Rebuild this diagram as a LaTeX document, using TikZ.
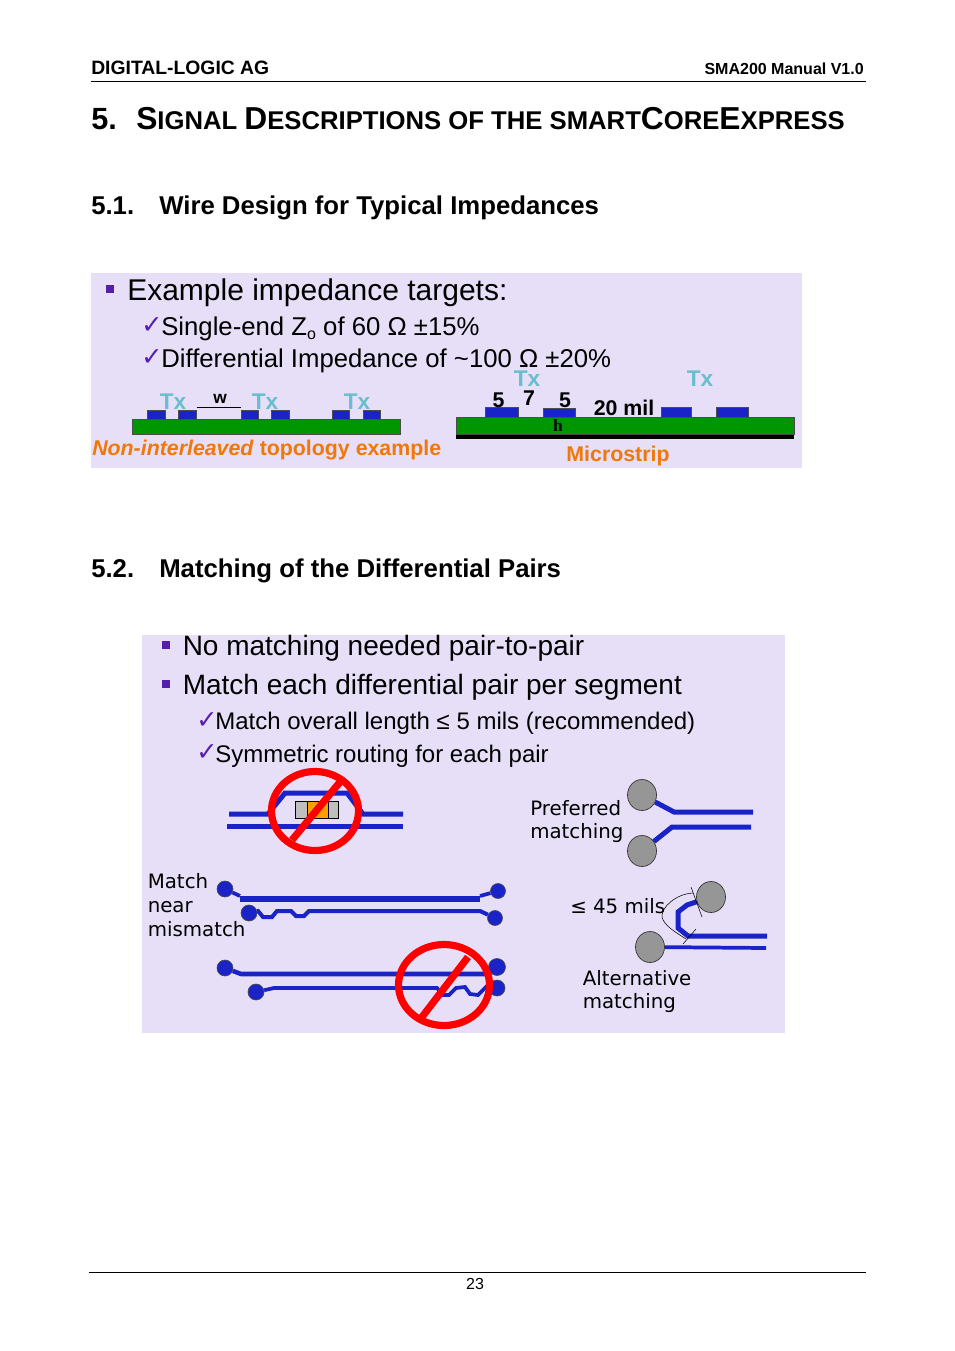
\documentclass[tikz,border=0pt]{standalone}
\usepackage{xcolor}
\usepackage{fontspec}
\usepackage{tikz}
\usetikzlibrary{shapes.geometric}
\setmainfont{Liberation Sans}
\newfontfamily\dejavu{DejaVu Sans}
\newfontfamily\timesbold{Liberation Serif}
\definecolor{slidebg}{RGB}{231,223,248}
\definecolor{tracecol}{RGB}{25,35,200}
\definecolor{bulletcol}{RGB}{85,30,175}
\definecolor{txcol}{RGB}{105,190,205}
\definecolor{labelcol}{RGB}{240,120,10}
\definecolor{boardcol}{RGB}{0,150,0}
\definecolor{padgray}{RGB}{150,150,150}
\definecolor{partcol}{RGB}{255,160,0}
\tikzset{
  txt/.style={anchor=base west,inner sep=0pt},
  ctxt/.style={anchor=base,inner sep=0pt},
  big/.style={txt,font=\fontsize{21}{26}\selectfont},
  sub/.style={txt,font=\fontsize{19.3}{24}\selectfont},
  note/.style={txt,font=\dejavu\fontsize{14.85}{18}\selectfont},
  heading/.style={txt,font=\bfseries\fontsize{19.3}{24}\selectfont},
  tx/.style={ctxt,text=txcol,font=\bfseries\fontsize{17}{20}\selectfont},
  dim/.style={ctxt,font=\bfseries\fontsize{16}{20}\selectfont},
  bulletbox/.style={fill=bulletcol,minimum size=6.5pt,inner sep=0pt},
  tick/.style={anchor=base west,inner sep=0pt,text=bulletcol,font=\dejavu\fontsize{19}{20}\selectfont},
  strip/.style={draw=black!70,line width=0.6pt,fill=tracecol},
  board/.style={draw=black!70,line width=0.6pt,fill=boardcol},
  trace/.style={draw=tracecol,line width=3.75pt},
  thintrace/.style={draw=tracecol,line width=2.8pt},
  bluepad/.style={circle,draw=black!70,line width=0.5pt,fill=tracecol,minimum size=12pt,inner sep=0pt},
  graypad/.style={ellipse,draw=black!80,line width=0.5pt,fill=padgray,minimum width=21.75pt,minimum height=23.25pt,inner sep=0pt},
  nosign/.style={draw=red,line width=5.4pt},
}
\newcommand{\scword}[2]{{\fontsize{23.8}{26}\selectfont #1}{\fontsize{19.25}{26}\selectfont #2}}
\begin{document}
\begin{tikzpicture}[x=0.75pt,y=0.75pt,yscale=-1,xscale=1]
    \useasboundingbox (0,0) rectangle (954,1351);
    \node [txt,font=\bfseries\fontsize{14.5}{18}\selectfont] (company) at (91,75) {DIGITAL-LOGIC AG};
    \node [anchor=base east,inner sep=0pt,font=\bfseries\fontsize{12}{14}\selectfont] (manual) at (864,75) {SMA200 Manual V1.0};
    \draw [line width=0.6pt] (91,81.5) -- (866,81.5) ;
    \node [txt,font=\bfseries\fontsize{23}{26}\selectfont] (chapnum) at (91,130) {5.};
    \node [txt,font=\bfseries\fontsize{19.25}{26}\selectfont] (chaptitle) at (136,130) {\scword{S}{IGNAL} \scword{D}{ESCRIPTIONS} \scword{}{OF THE SMART}\scword{C}{ORE}\scword{E}{XPRESS}};
    \node [heading] (secone) at (91,215) {5.1.};
    \node [heading] (seconetitle) at (159,215) {Wire Design for Typical Impedances};
    \fill [slidebg] (91,273) rectangle (802,468) ;
    \node [bulletbox] (bulletA) at (110,289) {};
    \node [txt,font=\fontsize{22.5}{26}\selectfont] (targets) at (127,301) {Example impedance targets:};
    \node [tick] (tickA) at (141,334) {✓};
    \node [sub] (singleend) at (161,336) {Single-end Z\raisebox{-0.15em}{\fontsize{12}{14}\selectfont o} of 60 Ω ±15\%};
    \node [tick] (tickB) at (141,366) {✓};
    \node [sub] (differential) at (161,368) {Differential Impedance of \textasciitilde100 Ω ±20\%};
    \draw [board] (132,419) rectangle (400,434) ;
    \draw [strip] (147,410) rectangle (165,419) ;
    \draw [strip] (178,410) rectangle (196,419) ;
    \draw [strip] (241,410) rectangle (258,419) ;
    \draw [strip] (271,410) rectangle (289,419) ;
    \draw [strip] (332,410) rectangle (349,419) ;
    \draw [strip] (363,410) rectangle (380,419) ;
    \node [tx] (txA) at (173,409) {Tx};
    \node [tx] (txB) at (265,409) {Tx};
    \node [tx] (txC) at (357,409) {Tx};
    \node [ctxt,font=\bfseries\fontsize{13}{16}\selectfont] (wlabel) at (220,403) {w};
    \draw [line width=0.6pt] (197,407) -- (241,407) ;
    \node [txt,text=labelcol,font=\bfseries\fontsize{16}{20}\selectfont] (topology) at (92,455) {\textit{Non-interleaved} topology example};
    \fill [black] (456,434) rectangle (794,439) ;
    \draw [board] (456,417) rectangle (794,434) ;
    \draw [strip] (485,407) rectangle (518,417) ;
    \draw [strip] (543,408) rectangle (575,417) ;
    \draw [strip] (661,407) rectangle (691,417) ;
    \draw [strip] (716,407) rectangle (748,417) ;
    \node [tx] (txD) at (527,387) {Tx};
    \node [tx] (txE) at (700,387) {Tx};
    \node [dim] (fiveA) at (498.5,407) {5};
    \node [dim] (seven) at (529,406) {7};
    \node [dim] (fiveB) at (565,407) {5};
    \node [dim] (twenty) at (624,415) {20 mil};
    \node [ctxt,font=\timesbold\bfseries\fontsize{13}{15}\selectfont] (hlabel) at (558,431) {h};
    \node [ctxt,text=labelcol,font=\bfseries\fontsize{16}{20}\selectfont] (microstrip) at (618,461) {Microstrip};
    \node [heading] (sectwo) at (91,577) {5.2.};
    \node [heading] (sectwotitle) at (159,577) {Matching of the Differential Pairs};
    \fill [slidebg] (142,635) rectangle (785,1033) ;
    \node [bulletbox] (bulletB) at (166,645) {};
    \node [big] (nomatch) at (182.5,655) {No matching needed pair-to-pair};
    \node [bulletbox] (bulletC) at (166,684) {};
    \node [big] (matcheach) at (182.5,694) {Match each differential pair per segment};
    \node [tick] (tickC) at (196,728) {✓};
    \node [sub,font=\fontsize{18}{22}\selectfont] (overall) at (215,729.5) {Match overall length ≤ 5 mils (recommended)};
    \node [tick] (tickD) at (196,760) {✓};
    \node [sub,font=\fontsize{18}{22}\selectfont] (symmetric) at (215,762) {Symmetric routing for each pair};
    \draw [trace] (229,814) -- (268,814) -- (285,793) -- (347,793) -- (363,814) -- (403,814) ;
    \draw [trace] (227,826) -- (403,826) ;
    \draw [fill=gray!50,line width=0.6pt] (295,801) rectangle (338,818) ;
    \draw [fill=partcol,line width=0.6pt] (307,801) rectangle (328,818) ;
    \draw [nosign] (315,811) ellipse [x radius=43.5,y radius=39.5] ;
    \draw [nosign] (292,840) -- (340,782) ;
    \node [graypad] (prefA) at (642,795) {};
    \node [graypad] (prefB) at (642,851) {};
    \draw [trace] (prefA) -- (674,812) -- (753,812) ;
    \draw [trace] (prefB) -- (672,827) -- (751,827) ;
    \node [note] (preferred) at (530,815) {Preferred};
    \node [note] (prefmatch) at (530,838) {matching};
    \node [note] (matchtxt) at (147.5,888) {Match};
    \node [note] (neartxt) at (147.5,912) {near};
    \node [note] (mismatch) at (147.5,936) {mismatch};
    \node [bluepad] (nearA) at (225,889) {};
    \node [bluepad] (nearB) at (249,913) {};
    \node [bluepad,minimum size=11.25pt] (nearC) at (498,891) {};
    \node [bluepad,minimum size=11.25pt] (nearD) at (495,918) {};
    \draw [thintrace] (nearA) -- (240,896) ;
    \draw [trace,line width=4.2pt] (240,899) -- (480,899) ;
    \draw [thintrace] (480,896) -- (nearC) ;
    \draw [thintrace,line width=3pt] (nearB) -- (258,911) -- (263,917) -- (272,917) -- (277,911) -- (291,911) -- (296,916) -- (304,916) -- (309,911) -- (480,911) -- (nearD) ;
    \node [bluepad] (farA) at (225,968) {};
    \node [bluepad] (farB) at (256,992) {};
    \node [bluepad,minimum size=12.75pt] (farC) at (497,967) {};
    \node [bluepad] (farD) at (497,988) {};
    \draw [thintrace,line width=3.4pt] (farA) -- (241,974) -- (491,974) ;
    \draw [thintrace] (farB) -- (274,988) -- (437,988) -- (443,995) -- (449,995) -- (456,988) -- (465,987) -- (470,994) -- (478,995) -- (488,985) ;
    \draw [nosign] (444,985) ellipse [x radius=45.5,y radius=40.5] ;
    \draw [nosign] (422,1017) -- (468,957) ;
    \node [graypad] (altA) at (711,897) {};
    \node [graypad] (altB) at (650,947) {};
    \draw [trace] (altA) -- (687,905) -- (678,912) -- (678,928) -- (688,936) -- (767,936) ;
    \draw [thintrace] (altB) -- (766,948) ;
    \draw [line width=0.4pt] (691,887) -- (702,917) ;
    \draw [line width=0.4pt] (683,944) -- (696,929) ;
    \draw [line width=0.4pt] (693,893) .. controls (675,894) and (661,908) .. (662,917) .. controls (664,926) and (677,933) .. (686,939) ;
    \node [note] (mils) at (570,913) {≤ 45 mils};
    \node [note] (alternative) at (582.5,985) {Alternative};
    \node [note] (altmatch) at (582.5,1008) {matching};
    \draw [line width=0.6pt] (89,1272.5) -- (866,1272.5) ;
    \node [ctxt,font=\fontsize{12}{14}\selectfont] (pagenum) at (475,1289) {23};
\end{tikzpicture}
\end{document}
